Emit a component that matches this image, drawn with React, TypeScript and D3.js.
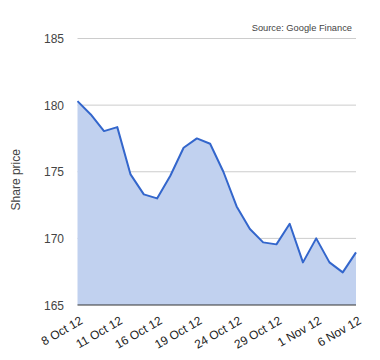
import React from "react";
import * as d3 from "d3";

const dates = [
  "8 Oct 12", "9 Oct 12", "10 Oct 12", "11 Oct 12", "12 Oct 12", "15 Oct 12",
  "16 Oct 12", "17 Oct 12", "18 Oct 12", "19 Oct 12", "22 Oct 12", "23 Oct 12",
  "24 Oct 12", "25 Oct 12", "26 Oct 12", "29 Oct 12", "30 Oct 12", "31 Oct 12",
  "1 Nov 12", "2 Nov 12", "5 Nov 12", "6 Nov 12",
];
const prices = [
  180.3, 179.3, 178.05, 178.35, 174.8, 173.3, 173.0, 174.7, 176.8, 177.5, 177.1,
  175.0, 172.4, 170.7, 169.7, 169.55, 171.1, 168.2, 170.0, 168.2, 167.45, 168.95,
];
const yTicks = [165, 170, 175, 180, 185];
const xLabelIdx = [0, 3, 6, 9, 12, 15, 18, 21];

const W = 380, H = 360;
const left = 77.5, right = 356, top = 38.5, bottom = 305;

export default function App() {
  const x = d3.scalePoint<string>().domain(dates).range([left, right]);
  const y = d3.scaleLinear().domain([165, 185]).range([bottom, top]);
  const data = dates.map((d, i) => ({ d, v: prices[i] }));
  const area = d3.area<{ d: string; v: number }>()
    .x((p) => x(p.d)!)
    .y0(y(165))
    .y1((p) => y(p.v));
  const line = d3.line<{ d: string; v: number }>()
    .x((p) => x(p.d)!)
    .y((p) => y(p.v));
  const font = "Arial, 'Liberation Sans', sans-serif";
  return (
    <svg width={W} height={H} style={{ position: "absolute", left: 0, top: 0, background: "#fff" }} fontFamily={font}>
      {yTicks.map((t) => (
        <g key={t}>
          {t !== 165 && (
            <line x1={left} x2={right} y1={y(t)} y2={y(t)} stroke="#cccccc" strokeWidth={1} />
          )}
          <text x={64} y={y(t) + 4.5} textAnchor="end" fontSize={12} fill="#444">
            {t}
          </text>
        </g>
      ))}
      <path d={area(data)!} fill="#c1d1ef" />
      <path d={line(data)!} fill="none" stroke="#3366cc" strokeWidth={2} strokeLinejoin="round" />
      <line x1={left} x2={right} y1={bottom} y2={bottom} stroke="#333" strokeWidth={1} />
      {xLabelIdx.map((i) => (
        <text
          key={i}
          transform={`translate(${x(dates[i])! + 6},${bottom + 18}) rotate(-30)`}
          textAnchor="end"
          fontSize={12}
          fill="#222"
        >
          {dates[i]}
        </text>
      ))}
      <text
        transform={`translate(20,${(top + bottom) / 2 + 8}) rotate(-90)`}
        textAnchor="middle"
        fontSize={12}
        fill="#444"
      >
        Share price
      </text>
      <text x={352} y={31} textAnchor="end" fontSize={9.3} fill="#444">
        Source: Google Finance
      </text>
    </svg>
  );
}
